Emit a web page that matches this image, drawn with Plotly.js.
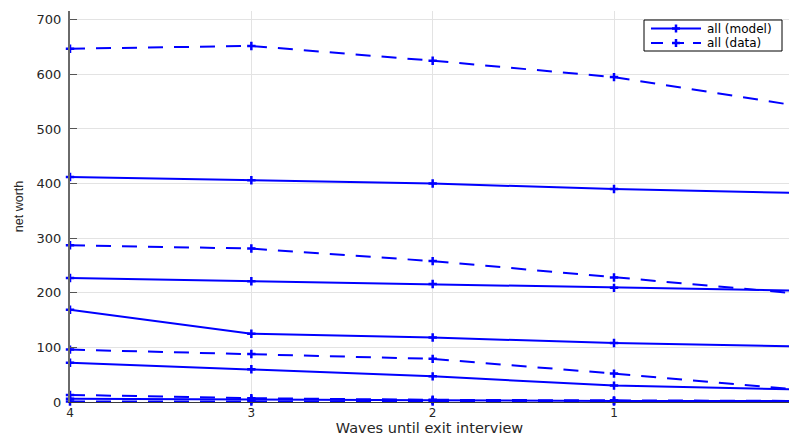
<!DOCTYPE html>
<html>
<head>
<meta charset="utf-8">
<script src="https://cdn.plot.ly/plotly-3.0.1.min.js"></script>
<style>
  html, body { margin: 0; padding: 0; background: #fff; }
  #chart { width: 789px; height: 436px; }
</style>
</head>
<body>
<div id="chart"></div>
<script>
// Waves remaining before the exit interview (axis runs right-to-left)
const waves = [4, 3, 2, 1, 0];
const waveTicks = [1, 2, 3, 4];
const waveTickLabels = ['1', '2', '3', '4'];

// Net worth paths, model (solid) and data (dashed)
const modelAll = [412, 406, 400, 390, 383];
const dataAll = [647, 652, 625, 595, 543];
const modelG2 = [227, 221, 216, 209, 204];
const dataG2 = [287, 281, 258, 228, 199];
const modelG3 = [169, 125, 118, 108, 102];
const dataG3 = [96, 88, 79, 52, 23];
const modelG4 = [72, 60, 47, 30, 23];
const dataG4 = [13, 7, 4, 3, 2];
const modelG5 = [6, 4, 3, 2, 2];
const dataG5 = [1, 1, 1, 1, 1];

const netWorthTicks = [0, 100, 200, 300, 400, 500, 600, 700];
const legendLabels = ['all (model)', 'all (data)'];

const BLUE = '#0000ff';
const DASH = '15px,11px';
const W = 789, H = 436;
const M = { l: 70, r: 0, t: 11, b: 34 };

function series(y, dashed, name) {
  return {
    x: waves,
    y: y,
    type: 'scatter',
    mode: 'lines+markers',
    name: name,
    showlegend: false,
    line: { color: BLUE, width: 2, dash: dashed ? DASH : 'solid' },
    marker: {
      symbol: 'cross-thin',
      size: 6,
      color: BLUE,
      line: { color: BLUE, width: 2.5 }
    },
    cliponaxis: false
  };
}

const traces = [
  series(modelAll, false, legendLabels[0]),
  series(dataAll, true, legendLabels[1]),
  series(modelG2, false, 'g2 (model)'),
  series(dataG2, true, 'g2 (data)'),
  series(modelG3, false, 'g3 (model)'),
  series(dataG3, true, 'g3 (data)'),
  series(modelG4, false, 'g4 (model)'),
  series(dataG4, true, 'g4 (data)'),
  series(modelG5, false, 'g5 (model)'),
  series(dataG5, true, 'g5 (data)')
];

// Compact boxed legend in the top-right corner, positioned in pixels
const plotW = W - M.l - M.r, plotH = H - M.t - M.b;
const px = v => (v - M.l) / plotW;
const py = v => (H - M.b - v) / plotH;

const shapes = [];
const annotations = [];
shapes.push({
  type: 'rect', xref: 'paper', yref: 'paper',
  x0: px(644), x1: px(782), y0: py(51), y1: py(20),
  line: { color: '#000000', width: 1 }, fillcolor: '#ffffff', layer: 'above'
});
[28.5, 43].forEach((yy, i) => {
  shapes.push({
    type: 'line', xref: 'paper', yref: 'paper',
    x0: px(651), x1: px(701), y0: py(yy), y1: py(yy),
    line: { color: BLUE, width: 2, dash: i === 0 ? 'solid' : '12px,9px' }, layer: 'above'
  });
  shapes.push({
    type: 'line', xref: 'paper', yref: 'paper',
    x0: px(672), x1: px(680), y0: py(yy), y1: py(yy),
    line: { color: BLUE, width: 2.5 }, layer: 'above'
  });
  shapes.push({
    type: 'line', xref: 'paper', yref: 'paper',
    x0: px(676), x1: px(676), y0: py(yy - 4), y1: py(yy + 4),
    line: { color: BLUE, width: 2.5 }, layer: 'above'
  });
  annotations.push({
    xref: 'paper', yref: 'paper', x: px(706), y: py(yy),
    xanchor: 'left', yanchor: 'middle', showarrow: false,
    borderpad: 0,
    text: legendLabels[i],
    font: { family: 'DejaVu Sans, sans-serif', size: 12, color: '#000000' }
  });
});

const layout = {
  width: W,
  height: H,
  margin: { l: M.l, r: M.r, t: M.t, b: M.b, pad: 0 },
  paper_bgcolor: '#ffffff',
  plot_bgcolor: '#ffffff',
  font: { family: 'DejaVu Sans, sans-serif', size: 13, color: '#262626' },
  showlegend: false,
  shapes: shapes,
  annotations: annotations,
  xaxis: {
    range: [4, 0.035],
    tickmode: 'array',
    tickvals: waveTicks,
    ticktext: waveTickLabels,
    ticks: '',
    ticklabelstandoff: 0,
    showgrid: true,
    gridcolor: '#e3e3e3',
    gridwidth: 1,
    zeroline: false,
    showline: true,
    linecolor: '#3a3a3a',
    linewidth: 1,
    tickfont: { family: 'DejaVu Sans, sans-serif', size: 12, color: '#262626' },
    title: {
      text: 'Waves until exit interview',
      font: { family: 'DejaVu Sans, sans-serif', size: 14.5, color: '#262626' },
      standoff: 3
    },
    automargin: false
  },
  yaxis: {
    range: [0, 716],
    tickmode: 'array',
    tickvals: netWorthTicks,
    ticks: 'inside',
    ticklen: 7,
    tickcolor: '#555555',
    tickwidth: 1,
    ticklabelstandoff: 4,
    showgrid: true,
    gridcolor: '#e3e3e3',
    gridwidth: 1,
    zeroline: false,
    showline: true,
    linecolor: '#6a6a6a',
    linewidth: 2,
    tickfont: { family: 'DejaVu Sans, sans-serif', size: 13, color: '#262626' },
    title: {
      text: 'net worth',
      font: { family: 'Liberation Sans, Arial, sans-serif', size: 12.5, color: '#262626' },
      standoff: 10
    },
    automargin: false
  }
};

Plotly.newPlot('chart', traces, layout, { displayModeBar: false, staticPlot: true });
</script>
</body>
</html>
